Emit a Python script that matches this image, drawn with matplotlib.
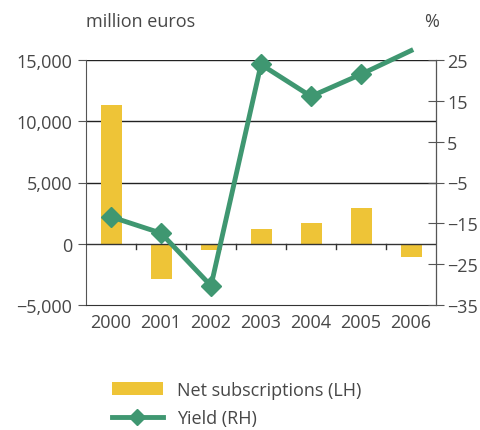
import matplotlib.pyplot as plt
from matplotlib.lines import Line2D
from matplotlib.patches import Patch
import numpy as np

# Data
years = ['2000', '2001', '2002', '2003', '2004', '2005', '2006']
net_subscriptions = [11300, -2900, -550, 1200, 1700, 2950, -1100]  # million euros
yield_pct = [-13.4, -17.4, -30.3, 23.9, 16.1, 21.5, 27.3]  # %

BAR_COLOR = '#eec437'
LINE_COLOR = '#3f9771'
TEXT_COLOR = '#474747'
AXIS_COLOR = '#555555'
FS = 13

plt.rcParams['font.family'] = ['Open Sans', 'DejaVu Sans']
plt.rcParams['font.size'] = FS

fig = plt.figure(figsize=(4.8, 4.31), dpi=100)
ax = fig.add_axes([86 / 480, 1 - 306 / 431, 350 / 480, 245 / 431])
ax2 = ax.twinx()

x = np.arange(len(years))
ax.bar(x, net_subscriptions, width=0.42, color=BAR_COLOR, zorder=2)

ax.set_xlim(-0.5, len(years) - 0.5)
ax.set_ylim(-5000, 15000)
ax.set_yticks([-5000, 0, 5000, 10000, 15000])
ax.set_yticklabels(['\u22125,000', '0', '5,000', '10,000', '15,000'])
ax.set_xticks(x)
ax.set_xticklabels(years)

# horizontal rules
for v in [5000, 10000, 15000]:
    ax.axhline(v, color='#222222', lw=1.0, zorder=1)
ax.axhline(0, color='#333333', lw=1.0, zorder=3)

# small category ticks on the zero line
for b in np.arange(0.5, len(years) - 1, 1.0):
    ax.plot([b, b], [0, -450], color='#333333', lw=1.0, zorder=3, clip_on=False)

ax.tick_params(axis='y', direction='out', length=6, color=AXIS_COLOR,
               labelcolor=TEXT_COLOR, pad=4, labelsize=FS)
ax.tick_params(axis='x', length=0, labelcolor=TEXT_COLOR, pad=6, labelsize=FS)

ax.spines['top'].set_visible(False)
ax2.spines['top'].set_visible(False)
ax.spines['left'].set_color(AXIS_COLOR)
ax.spines['bottom'].set_color('#333333')
ax2.spines['right'].set_color(AXIS_COLOR)
ax2.spines['left'].set_visible(False)
ax2.spines['bottom'].set_visible(False)

# yield line on the right-hand scale
ax2.plot(x, yield_pct, color=LINE_COLOR, lw=3.5, marker='D', markersize=10,
         markevery=list(range(len(years) - 1)), clip_on=False, zorder=4)
ax2.set_ylim(-35, 25)
ax2.set_yticks([-35, -25, -15, -5, 5, 15, 25])
ax2.set_yticklabels(['\u221235', '\u221225', '\u221215', '\u22125', '5', '15', '25'])
ax2.tick_params(axis='y', direction='inout', length=12, color=AXIS_COLOR,
                labelcolor=TEXT_COLOR, pad=2, labelsize=FS)

fig.text(86 / 480, 1 - 22 / 431, 'million euros', color=TEXT_COLOR,
         fontsize=FS, va='center', ha='left')
fig.text(432 / 480, 1 - 22 / 431, '%', color=TEXT_COLOR,
         fontsize=FS, va='center', ha='center')

# legend
handles = [Patch(facecolor=BAR_COLOR, edgecolor='none'),
           Line2D([], [], color=LINE_COLOR, lw=3.5, marker='D', markersize=8)]
fig.legend(handles, ['Net subscriptions (LH)', 'Yield (RH)'],
           loc='center left', bbox_to_anchor=(112 / 480, 1 - 405 / 431),
           frameon=False, fontsize=FS, labelcolor=TEXT_COLOR, borderpad=0,
           borderaxespad=0, handlelength=2.8, handleheight=0.75,
           handletextpad=0.8, labelspacing=0.6)

fig.savefig('out.png', dpi=100)
